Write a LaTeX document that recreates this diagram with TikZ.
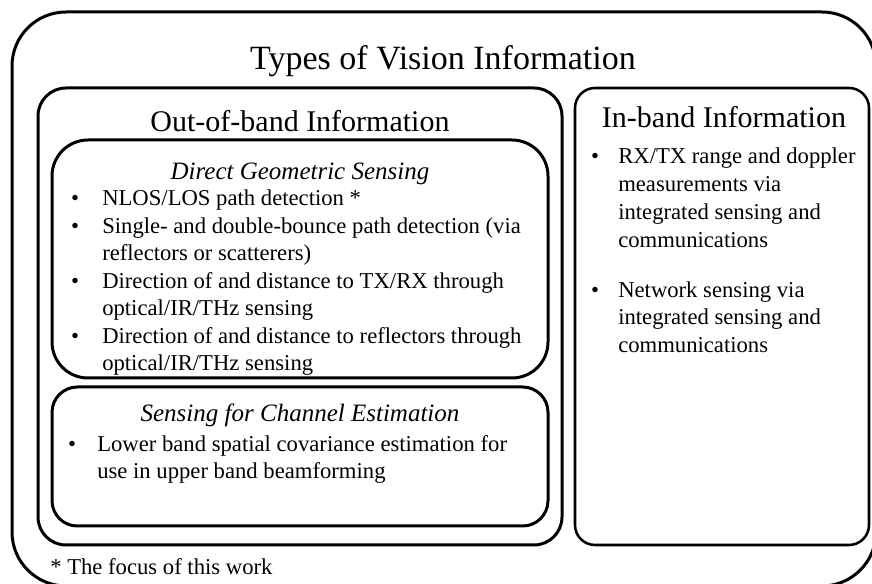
\documentclass[tikz,border=0pt]{standalone}
\usepackage{fontspec}
\setmainfont{Liberation Serif}
\begin{document}
\begin{tikzpicture}[x=0.75pt,y=-0.75pt,
  box/.style={draw=black,line width=2.25pt},
  titletext/.style={anchor=base,font=\fontsize{25.5}{30}\selectfont,inner sep=0pt},
  headtext/.style={anchor=base,font=\fontsize{22.5}{27}\selectfont,inner sep=0pt},
  subtext/.style={anchor=base,font=\fontsize{18.75}{22}\selectfont\itshape,inner sep=0pt},
  bodytext/.style={anchor=base west,font=\fontsize{17}{20.6}\selectfont,inner sep=0pt},
  bulletmark/.style={anchor=base,font=\fontsize{17}{20.6}\selectfont,inner sep=0pt}]
\useasboundingbox (0,0) rectangle (872,584);
% boxes
\draw[box, rounded corners=40.5pt] (12,12) rectangle (876,586);
\draw[box, rounded corners=21pt] (38,88) rectangle (562,545);
\draw[box, rounded corners=27pt] (52,140) rectangle (548,378);
\draw[box, rounded corners=19pt] (52,387) rectangle (548,526);
\draw[box, line width=1.9pt, rounded corners=15pt] (575,88) rectangle (869,545);
% titles
\node[titletext] (title) at (443,70) {Types of Vision Information};
\node[headtext] (oob) at (300,132) {Out-of-band Information};
\node[headtext] (ib) at (724,128) {In-band Information};
\node[subtext] (dgs) at (300,180) {Direct Geometric Sensing};
\node[subtext] (sce) at (300,422) {Sensing for Channel Estimation};
% direct geometric sensing items
\node[bulletmark] (b1) at (75,206) {•};
\node[bodytext] (d1) at (102,206) {NLOS/LOS path detection *};
\node[bulletmark] (b2) at (75,233.5) {•};
\node[bodytext] (d2a) at (102,233.5) {Single- and double-bounce path detection (via};
\node[bodytext] (d2b) at (102,261) {reflectors or scatterers)};
\node[bulletmark] (b3) at (75,288.5) {•};
\node[bodytext] (d3a) at (102,288.5) {Direction of and distance to TX/RX through};
\node[bodytext] (d3b) at (102,316) {optical/IR/THz sensing};
\node[bulletmark] (b4) at (75,343.5) {•};
\node[bodytext] (d4a) at (102,343.5) {Direction of and distance to reflectors through};
\node[bodytext] (d4b) at (102,371) {optical/IR/THz sensing};
% channel estimation item
\node[bulletmark] (b5) at (72,452) {•};
\node[bodytext] (c1a) at (97,452) {Lower band spatial covariance estimation for};
\node[bodytext] (c1b) at (97,479) {use in upper band beamforming};
% in-band items
\node[bulletmark] (b6) at (595,164) {•};
\node[bodytext] (i1a) at (618,164) {RX/TX range and doppler};
\node[bodytext] (i1b) at (618,192) {measurements via};
\node[bodytext] (i1c) at (618,220) {integrated sensing and};
\node[bodytext] (i1d) at (618,248) {communications};
\node[bulletmark] (b7) at (595,297.5) {•};
\node[bodytext] (i2a) at (618,297.5) {Network sensing via};
\node[bodytext] (i2b) at (618,325) {integrated sensing and};
\node[bodytext] (i2c) at (618,352.5) {communications};
% footnote
\node[bodytext] (foot) at (50,575) {* The focus of this work};
\end{tikzpicture}
\end{document}
